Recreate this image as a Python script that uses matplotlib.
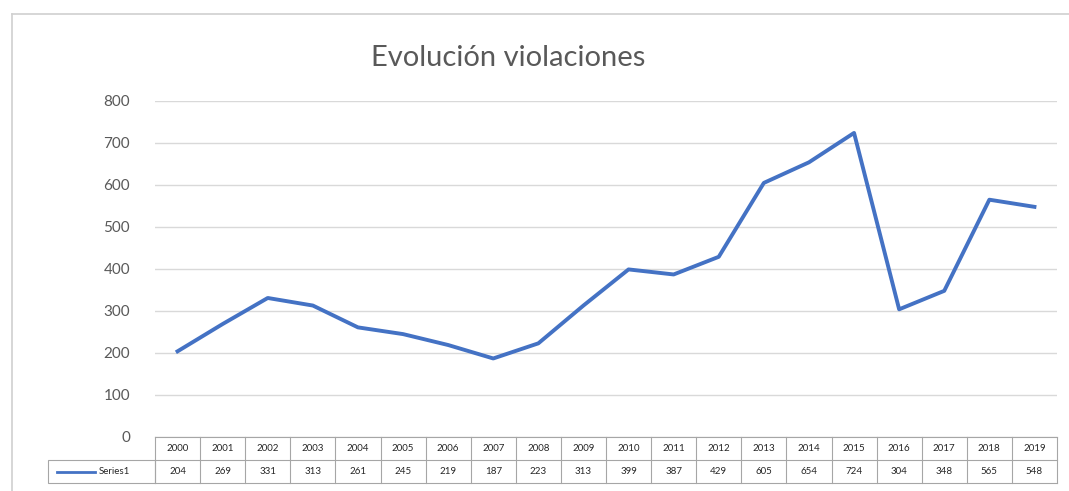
import matplotlib.pyplot as plt
from matplotlib.transforms import blended_transform_factory
from matplotlib.patches import Rectangle
from matplotlib.lines import Line2D

years = [str(y) for y in range(2000, 2020)]
values = [204, 269, 331, 313, 261, 245, 219, 187, 223, 313,
          399, 387, 429, 605, 654, 724, 304, 348, 565, 548]
series_name = "Series1"
title = "Evolución violaciones"

W, H = 1069, 491
line_color = "#4472C4"
grid_color = "#d9d9d9"
cell_color = "#a6a6a6"
text_color = "#595959"

plt.rcParams['font.family'] = ['Lato', 'DejaVu Sans']

fig = plt.figure(figsize=(W / 100, H / 100), dpi=100)

# plot area in pixel terms
left, right, top, bottom = 155, 1057, 101, 437
ax = fig.add_axes([left / W, (H - bottom) / H, (right - left) / W, (bottom - top) / H])

x = list(range(len(years)))
ax.plot(x, values, color=line_color, linewidth=2.8, solid_joinstyle='round')
ax.set_xlim(-0.5, len(years) - 0.5)
ax.set_ylim(0, 800)
ax.set_yticks(range(0, 801, 100))
ax.yaxis.grid(True, color=grid_color, linewidth=1)
ax.set_axisbelow(True)
ax.tick_params(axis='y', length=0, pad=18, labelsize=11, labelcolor=text_color)
ax.set_xticks([])
for s in ax.spines.values():
    s.set_visible(False)

# data table under the plot
row_h = 23 / (bottom - top)
tr = blended_transform_factory(ax.transData, ax.transAxes)
for i, (yr, v) in enumerate(zip(years, values)):
    ax.text(i, -row_h / 2, yr, transform=tr, ha='center', va='center',
            fontsize=7, color='#262626', clip_on=False)
    ax.text(i, -1.5 * row_h, str(v), transform=tr, ha='center', va='center',
            fontsize=7, color='#262626', clip_on=False)
for i in range(len(years) + 1):
    ax.add_line(Line2D([i - 0.5, i - 0.5], [0, -2 * row_h], transform=tr,
                       color=cell_color, linewidth=0.8, clip_on=False))
for yy in (0, -row_h, -2 * row_h):
    ax.add_line(Line2D([-0.5, len(years) - 0.5], [yy, yy], transform=tr,
                       color=cell_color, linewidth=0.8, clip_on=False))

# legend key cell at the left of the value row
key_l = 48 / W
key_r = left / W
key_t = (H - 460) / H
key_b = (H - 483) / H
fig.add_artist(Rectangle((key_l, key_b), key_r - key_l, key_t - key_b,
                         transform=fig.transFigure, fill=False,
                         edgecolor=cell_color, linewidth=0.8))
fig.add_artist(Line2D([57 / W, 95 / W], [(key_t + key_b) / 2] * 2,
                      transform=fig.transFigure, color=line_color, linewidth=2))
fig.text(99 / W, (key_t + key_b) / 2, series_name, ha='left', va='center',
         fontsize=7, color='#262626')

# chart frame
fig.add_artist(Line2D([12 / W, 1], [(H - 14) / H] * 2, transform=fig.transFigure,
                      color='#d0d0d0', linewidth=1.2))
fig.add_artist(Line2D([12 / W, 12 / W], [0, (H - 14) / H], transform=fig.transFigure,
                      color='#d0d0d0', linewidth=1.2))

fig.text(508 / W, (H - 58) / H, title, ha='center', va='center',
         fontsize=21, color=text_color)

fig.savefig("out.png", dpi=100, facecolor='white')
